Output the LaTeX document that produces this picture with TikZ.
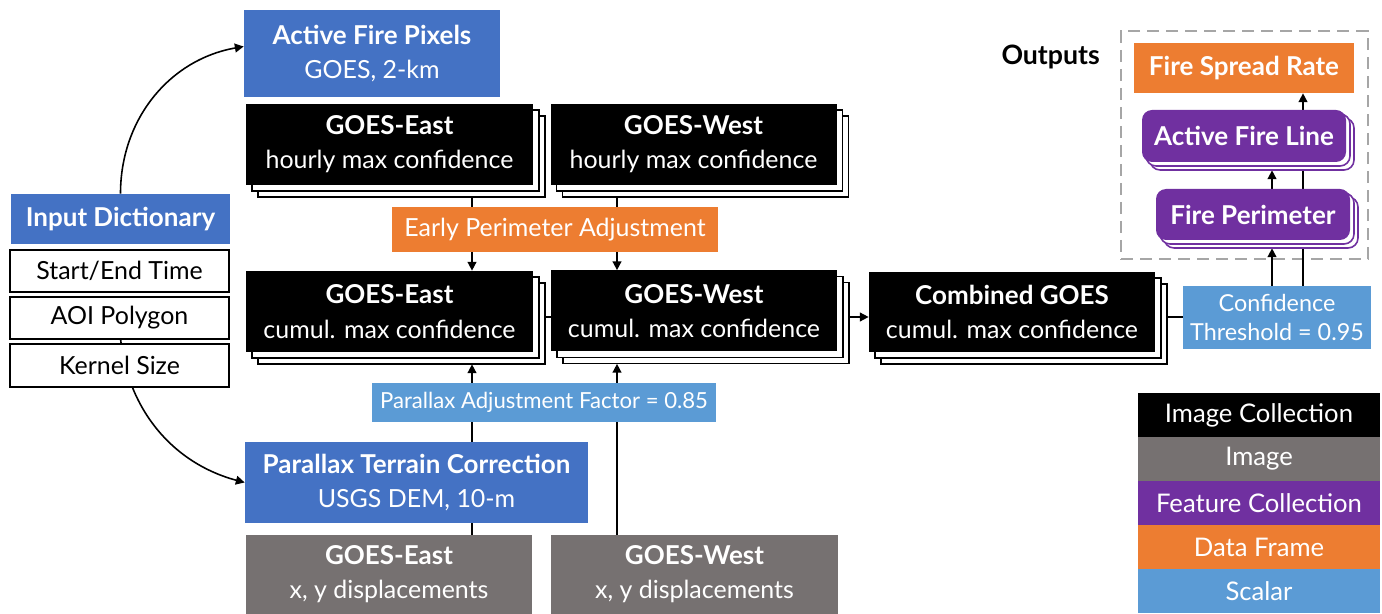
\documentclass[tikz,border=0pt]{standalone}
\usepackage{fontspec}
\setmainfont{Lato}
\usetikzlibrary{arrows.meta,shadows,backgrounds,calc}
\definecolor{cblue}{HTML}{4472C4}
\definecolor{cgray}{HTML}{767171}
\definecolor{cpurple}{HTML}{7030A0}
\definecolor{corange}{HTML}{ED7D31}
\definecolor{clight}{HTML}{5B9BD5}
\definecolor{cdash}{HTML}{A6A6A6}
\newcommand\hd[1]{{\fontsize{14.8}{19.5}\selectfont\bfseries #1}}
\tikzset{
  wh/.style 2 args={minimum width=#1*0.02cm, minimum height=#2*0.02cm},
  box/.style={rectangle, inner sep=0pt, align=center, text=white, font=\fontsize{14.2}{19.5}\selectfont},
  listbox/.style={box, text=black, fill=white, draw=black, line width=0.6pt},
  imgcol/.style={box, fill=black,
    general shadow={shadow xshift=0.24cm, shadow yshift=-0.24cm, fill=white, draw=black, line width=1pt},
    general shadow={shadow xshift=0.12cm, shadow yshift=-0.12cm, fill=white, draw=black, line width=1pt}},
  featcol/.style={box, fill=cpurple, rounded corners=0.2cm,
    general shadow={shadow xshift=0.16cm, shadow yshift=-0.16cm, fill=white, draw=cpurple, line width=0.9pt},
    general shadow={shadow xshift=0.08cm, shadow yshift=-0.08cm, fill=white, draw=cpurple, line width=0.9pt}},
  legend/.style={box, wh={242}{44}, font=\fontsize{14.6}{18}\selectfont},
  outframe/.style={draw=cdash, dash pattern=on 0.24cm off 0.14cm, line width=1.1pt},
  conn/.style={line width=0.9pt},
  arr/.style={conn, -{Triangle[length=5pt,width=5pt]}}
}
\begin{document}
\begin{tikzpicture}[x=0.02cm, y=-0.02cm]
\useasboundingbox (0,0) rectangle (1382,614);
\coordinate (xe) at (472,0);
\coordinate (xw) at (617,0);
\coordinate (xl) at (1272,0);
\coordinate (xr) at (1303,0);
\coordinate (yr) at (0,317);

\node [box, fill=cblue, wh={256}{87}] (afp) at (372,53.5) {\hd{Active Fire Pixels}\\GOES, 2-km};
\node [imgcol, wh={287}{81}] (eastHr) at (389.5,144.5) {\hd{GOES-East}\\hourly max confidence};
\node [imgcol, wh={286}{81}] (westHr) at (693.5,144.5) {\hd{GOES-West}\\hourly max confidence};
\node [box, fill=corange, wh={326}{45}] (epa) at (555,229.5) {Early Perimeter Adjustment};
\node [imgcol, wh={287}{81}] (eastCum) at (389.5,311.5) {\hd{GOES-East}\\cumul. max confidence};
\node [imgcol, wh={286}{81}] (westCum) at (694,311) {\hd{GOES-West}\\cumul. max confidence};
\node [imgcol, wh={286}{80}] (comb) at (1012,312) {\hd{Combined GOES}\\cumul. max confidence};
\node [box, fill=clight, wh={188}{63}, font=\fontsize{13.3}{16.5}\selectfont] (conf) at (1277,317.5) {Confidence\\Threshold = 0.95};
\node [box, fill=clight, wh={344}{39}, font=\fontsize{12.6}{15}\selectfont] (paf) at (544,402.5) {Parallax Adjustment Factor = 0.85};
\node [box, fill=cblue, wh={343}{81}] (ptc) at (416.5,482.5) {\hd{Parallax Terrain Correction}\\USGS DEM, 10-m};
\node [box, fill=cgray, wh={286}{79}] (eastDisp) at (389,574.5) {\hd{GOES-East}\\x, y displacements};
\node [box, fill=cgray, wh={287}{79}] (westDisp) at (694.5,574.5) {\hd{GOES-West}\\x, y displacements};

\node [box, fill=cblue, wh={219}{50}] (dict) at (120.5,219) {\hd{Input Dictionary}};
\node [listbox, wh={219}{42}] (tStart) at (119.5,271) {Start/End Time};
\node [listbox, wh={219}{42}] (aoi) at (119.5,318) {AOI Polygon};
\node [listbox, wh={219}{43}] (kern) at (119.5,365.5) {Kernel Size};

\node [font=\bfseries\fontsize{15.2}{18}\selectfont, anchor=east] (outLbl) at (1106,57) {Outputs};
\node [box, fill=corange, wh={220}{50}] (fsr) at (1244,68) {\hd{Fire Spread Rate}};
\node [featcol, wh={204}{52}] (afl) at (1244,136) {\hd{Active Fire Line}};
\node [featcol, wh={194}{51}] (fp) at (1253,214.5) {\hd{Fire Perimeter}};

\node [legend, fill=black] (lgIc) at (1259,415) {Image Collection};
\node [legend, fill=cgray] (lgIm) at (1259,459) {Image};
\node [legend, fill=cpurple] (lgFc) at (1259,503) {Feature Collection};
\node [legend, fill=corange] (lgDf) at (1259,547) {Data Frame};
\node [legend, fill=clight] (lgSc) at (1259,591) {Scalar};

\begin{scope}[on background layer]
\node [outframe, wh={247}{228}] (outBox) at (1244.5,145) {};
\draw [arr] (dict.north) to [out=90, in=190] ([yshift=0.14cm]afp.west);
\draw [arr] (aoi.center) to [out=-90, in=165] (ptc.west);
\draw [conn] (eastHr.south -| xe) -- (epa.north -| xe);
\draw [conn] (westHr.south -| xw) -- (epa.north -| xw);
\draw [arr] (epa.south -| xe) -- (eastCum.north -| xe);
\draw [arr] (epa.south -| xw) -- (westCum.north -| xw);
\draw [conn] (eastDisp.north -| xe) -- (paf.south -| xe);
\draw [conn] (westDisp.north -| xw) -- (paf.south -| xw);
\draw [arr] (paf.north -| xe) -- ($(eastCum.south -| xe)+(0,12)$);
\draw [arr] (paf.north -| xw) -- ($(westCum.south -| xw)+(0,12)$);
\draw [conn] (eastCum.east |- yr) -- (westCum.west |- yr);
\draw [arr] (westCum.east |- yr) -- (comb.west |- yr);
\draw [conn] (comb.east |- yr) -- (conf.west |- yr);
\draw [arr] (conf.north -| xl) -- ($(fp.south -| xl)+(0,8)$);
\draw [conn] (conf.north -| xr) -- (afl.south -| xr);
\draw [arr] (fp.north -| xl) -- ($(afl.south -| xl)+(0,8)$);
\draw [arr] (afl.north -| xr) -- (fsr.south -| xr);
\end{scope}
\end{tikzpicture}
\end{document}
